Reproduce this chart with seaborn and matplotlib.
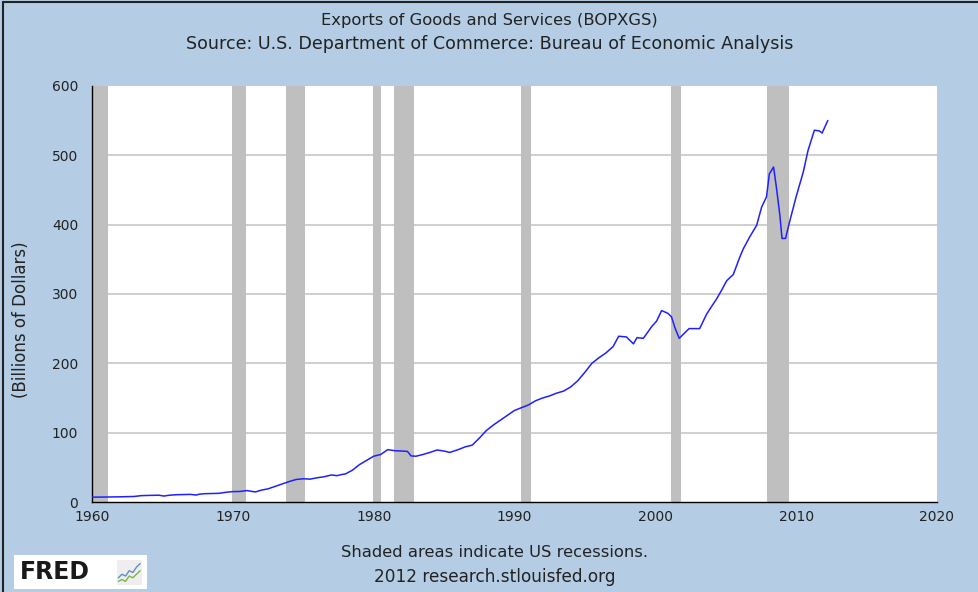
import pandas as pd
import seaborn as sns
import matplotlib.pyplot as plt

# Exports of goods and services, billions of dollars
years = [1960.0, 1961.0, 1962.0, 1963.0, 1963.5, 1964.0, 1964.75, 1965.1, 1965.5,
         1966.0, 1967.0, 1967.4, 1967.6, 1968.0, 1969.0, 1969.5, 1970.0, 1970.5,
         1971.0, 1971.6, 1972.0, 1972.5, 1973.0, 1973.5, 1974.0, 1974.5, 1975.0,
         1975.5, 1976.0, 1976.5, 1977.0, 1977.4, 1977.7, 1978.0, 1978.5, 1979.0,
         1979.5, 1980.0, 1980.5, 1981.0, 1981.5, 1982.0, 1982.4, 1982.65, 1983.0,
         1983.5, 1984.0, 1984.5, 1985.0, 1985.4, 1986.0, 1986.5, 1987.0, 1987.5,
         1988.0, 1988.5, 1989.0, 1989.5, 1990.0, 1990.5, 1991.0, 1991.5, 1992.0,
         1992.5, 1993.0, 1993.5, 1994.0, 1994.5, 1995.0, 1995.5, 1996.0, 1996.5,
         1997.0, 1997.4, 1997.95, 1998.45, 1998.7, 1999.15, 1999.4, 1999.75, 2000.1,
         2000.45, 2000.9, 2001.15, 2001.4, 2001.7, 2001.95, 2002.4, 2003.15, 2003.65,
         2004.0, 2004.36, 2004.7, 2005.07, 2005.54, 2006.0, 2006.25, 2006.7, 2007.2,
         2007.55, 2007.9, 2008.1, 2008.4, 2008.6, 2008.85, 2009.0, 2009.25, 2009.5,
         2010.0, 2010.5, 2010.85, 2011.3, 2011.65, 2011.85, 2012.25]
exports = [7.0, 7.2, 7.5, 8.0, 9.2, 9.5, 9.8, 8.6, 9.8,
           10.5, 11.0, 10.0, 11.2, 12.0, 12.5, 14.0, 15.0, 15.2,
           16.5, 14.5, 17.0, 19.0, 22.5, 26.0, 29.5, 32.5, 33.5,
           33.0, 35.0, 36.5, 39.0, 38.0, 39.5, 40.5, 46.0, 54.0,
           60.0, 66.0, 68.5, 75.5, 74.0, 73.5, 73.0, 66.5, 66.0,
           68.5, 71.5, 75.0, 73.5, 71.5, 75.5, 79.5, 82.0, 92.0,
           103.0, 111.0, 118.0, 125.0, 132.0, 136.0, 140.0, 146.0, 150.0,
           153.0, 157.0, 160.0, 166.0, 175.0, 187.0, 200.0, 208.0, 215.0,
           224.0, 239.0, 238.0, 228.0, 237.0, 236.0, 243.0, 253.0, 261.0,
           276.0, 272.0, 267.0, 251.0, 236.0, 241.0, 250.0, 250.0, 271.0,
           282.0, 293.0, 305.0, 319.0, 328.0, 353.0, 365.0, 382.0, 399.0,
           425.0, 440.0, 473.0, 483.0, 454.0, 413.0, 380.0, 380.0, 401.0,
           440.0, 475.0, 507.0, 536.0, 535.0, 532.0, 550.0]

# US recessions (start, end) as shaded on the chart
rec_start = [1960.05, 1969.95, 1973.8, 1979.95, 1981.45, 1990.45, 2001.1, 2007.9]
rec_end = [1961.15, 1970.9, 1975.15, 1980.5, 1982.85, 1991.2, 2001.85, 2009.5]

yticks = [0, 100, 200, 300, 400, 500, 600]
xticks = [1960, 1970, 1980, 1990, 2000, 2010, 2020]

df = pd.DataFrame({"year": years, "exports": exports})

sns.set_theme(style="white")
plt.rcParams["font.family"] = ["DejaVu Sans"]

bg = "#b4cde4"
txt = "#222222"
fig = plt.figure(figsize=(9.79, 5.92), dpi=100, facecolor=bg)
ax = fig.add_axes([0.094, 0.152, 0.863, 0.703])
ax.set_facecolor("white")

for s, e in zip(rec_start, rec_end):
    ax.axvspan(s, e, color="#bfbfbf", lw=0, zorder=1)

for v in yticks[1:-1]:
    ax.axhline(v, color="#cccccc", lw=1.3, zorder=0)

sns.lineplot(data=df, x="year", y="exports", ax=ax, color="#2020ff",
             lw=1.1, zorder=3)

ax.set_xlim(1960, 2020)
ax.set_ylim(0, 600)
ax.set_xticks(xticks)
ax.set_yticks(yticks)
ax.tick_params(axis="x", direction="in", length=8, width=1, colors="black",
               labelcolor=txt, labelsize=10, pad=6)
ax.tick_params(axis="y", direction="out", length=6, width=1, colors="black",
               labelcolor=txt, labelsize=10, pad=4)
for side in ["top", "right"]:
    ax.spines[side].set_visible(False)
for side in ["left", "bottom"]:
    ax.spines[side].set_color("black")
    ax.spines[side].set_linewidth(1)
ax.set_xlabel("")
ax.set_ylabel("(Billions of Dollars)", fontsize=12, color=txt)
ax.yaxis.set_label_coords(-0.073, 0.438)

fig.text(0.5, 0.966, "Exports of Goods and Services (BOPXGS)", ha="center",
         va="center", fontsize=11.8, color=txt)
fig.text(0.5, 0.926, "Source: U.S. Department of Commerce: Bureau of Economic Analysis",
         ha="center", va="center", fontsize=12.6, color=txt)
fig.text(0.505, 0.066, "Shaded areas indicate US recessions.", ha="center",
         va="center", fontsize=11.8, color=txt)
fig.text(0.505, 0.025, "2012 research.stlouisfed.org", ha="center",
         va="center", fontsize=12.2, color=txt)

# FRED logo
logo = fig.add_axes([0.014, 0.005, 0.136, 0.057])
logo.set_facecolor("white")
logo.set_xticks([])
logo.set_yticks([])
for sp in logo.spines.values():
    sp.set_visible(False)
logo.text(0.05, 0.5, "FRED", fontsize=17, fontweight="bold", color="#1a1a1a",
          va="center", ha="left", transform=logo.transAxes)
icon = fig.add_axes([0.119, 0.012, 0.026, 0.042])
icon.set_facecolor("#eeeeee")
icon.set_xticks([])
icon.set_yticks([])
for sp in icon.spines.values():
    sp.set_visible(False)
icon_x = [0, 1, 2, 3, 4, 5, 6]
icon_blue = [2, 3, 2.5, 4, 3.5, 5, 6]
icon_green = [1, 1.5, 1, 2.5, 2, 3, 4]
icon.plot(icon_x, icon_blue, color="#5b8fc9", lw=1)
icon.plot(icon_x, icon_green, color="#7ab648", lw=1)
icon.set_xlim(-0.5, 6.5)
icon.set_ylim(0, 7)

# screenshot border on left and top
fig.add_artist(plt.Line2D([0.003, 0.003], [0, 0.997], color="#222222", lw=1.5,
                          transform=fig.transFigure))
fig.add_artist(plt.Line2D([0.003, 1], [0.997, 0.997], color="#222222", lw=1.5,
                          transform=fig.transFigure))

fig.savefig("out.png", dpi=100, facecolor=bg)
